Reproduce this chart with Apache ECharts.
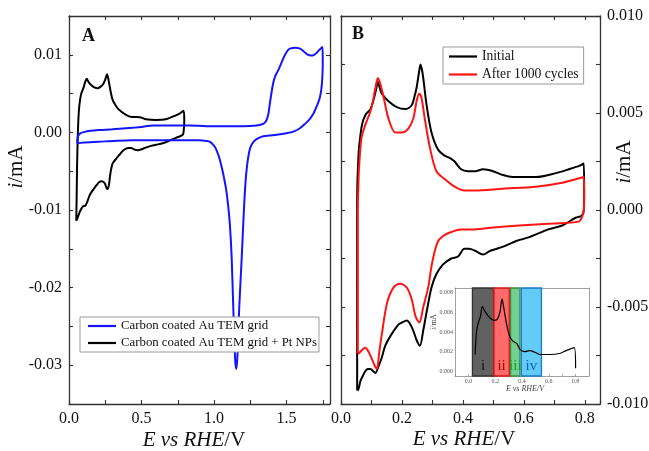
<!DOCTYPE html>
<html>
<head>
<meta charset="utf-8">
<script src="https://cdn.jsdelivr.net/npm/echarts@6/dist/echarts.min.js"></script>
<style>html,body{margin:0;padding:0;background:#fff}#c{width:649px;height:451px}</style>
</head>
<body>
<div id="c"></div>
<script>
// ---------- DATA ----------
// Panel A: Carbon coated Au TEM grid (blue), loop anodic -> cathodic  [E (V), i (mA)]
const auGrid = [
 [0.057,-0.0009],[0.065,-0.0004],[0.080,-0.0001],[0.095,0.0000],[0.150,0.0002],[0.209,0.0003],[0.300,0.0004],
 [0.439,0.0006],[0.500,0.0007],[0.577,0.0009],[0.700,0.0009],[0.834,0.0009],[0.950,0.0008],[1.064,0.0008],
 [1.200,0.0008],[1.294,0.0009],[1.340,0.0011],[1.360,0.0015],[1.374,0.0023],[1.386,0.0038],[1.398,0.0053],
 [1.410,0.0065],[1.421,0.0072],[1.440,0.0079],[1.455,0.0085],[1.475,0.0094],[1.490,0.0100],[1.510,0.0106],
 [1.524,0.0108],[1.560,0.0109],[1.593,0.0108],[1.615,0.0105],[1.640,0.0101],[1.670,0.0099],[1.690,0.0100],
 [1.710,0.0103],[1.735,0.0108],[1.748,0.0110],
 [1.750,0.0095],[1.748,0.0074],[1.740,0.0055],[1.730,0.0045],[1.720,0.0039],[1.700,0.0030],[1.685,0.0024],
 [1.660,0.0017],[1.628,0.0011],[1.590,0.0005],[1.547,0.0001],[1.500,-0.0001],[1.432,-0.0003],[1.380,-0.0004],
 [1.340,-0.0005],[1.310,-0.0007],[1.283,-0.0010],[1.262,-0.0015],[1.248,-0.0021],[1.236,-0.0032],[1.226,-0.0046],
 [1.217,-0.0065],[1.207,-0.0097],[1.191,-0.0162],[1.174,-0.0226],[1.161,-0.0290],[1.153,-0.0305],[1.145,-0.0290],
 [1.133,-0.0226],[1.122,-0.0162],[1.110,-0.0120],[1.099,-0.0097],[1.085,-0.0075],[1.064,-0.0054],[1.047,-0.0040],
 [1.030,-0.0029],[1.010,-0.0020],[0.995,-0.0016],[0.970,-0.0012],[0.950,-0.0011],[0.900,-0.0010],[0.834,-0.0010],
 [0.700,-0.0010],[0.550,-0.0010],[0.439,-0.0010],[0.300,-0.0011],[0.209,-0.0012],[0.100,-0.0013],[0.062,-0.0014],
 [0.057,-0.0012],[0.057,-0.0009]
];
// Panel A: Carbon coated Au TEM grid + Pt NPs (black)
const ptGrid = [
 [0.050,-0.0114],[0.053,-0.0080],[0.056,-0.0040],[0.060,-0.0009],[0.065,0.0018],[0.071,0.0034],[0.083,0.0049],
 [0.099,0.0057],[0.112,0.0065],[0.122,0.0069],[0.135,0.0065],[0.152,0.0061],[0.175,0.0058],[0.198,0.0057],
 [0.218,0.0059],[0.235,0.0062],[0.250,0.0068],[0.262,0.0075],[0.270,0.0070],[0.278,0.0062],[0.290,0.0050],
 [0.301,0.0042],[0.318,0.0036],[0.336,0.0031],[0.360,0.0027],[0.382,0.0024],[0.410,0.0021],[0.439,0.0020],
 [0.474,0.0020],[0.500,0.0019],[0.531,0.0017],[0.600,0.0016],[0.669,0.0017],[0.738,0.0022],[0.770,0.0025],
 [0.790,0.0028],[0.795,0.0015],[0.790,0.0000],[0.784,-0.0003],
 [0.765,-0.0005],[0.738,-0.0007],[0.700,-0.0010],[0.646,-0.0014],[0.600,-0.0016],[0.554,-0.0018],[0.510,-0.0021],
 [0.474,-0.0023],[0.450,-0.0022],[0.428,-0.0020],[0.410,-0.0020],[0.393,-0.0021],[0.370,-0.0024],[0.347,-0.0029],
 [0.325,-0.0034],[0.301,-0.0040],[0.290,-0.0048],[0.283,-0.0056],[0.274,-0.0069],[0.262,-0.0073],[0.252,-0.0068],
 [0.244,-0.0065],[0.225,-0.0063],[0.209,-0.0064],[0.190,-0.0068],[0.174,-0.0072],[0.155,-0.0077],[0.140,-0.0082],
 [0.125,-0.0090],[0.117,-0.0093],[0.108,-0.0095],[0.099,-0.0095],[0.090,-0.0097],[0.083,-0.0099],[0.075,-0.0102],
 [0.067,-0.0106],[0.060,-0.0110],[0.053,-0.0113]
];
// Panel B: Initial (black)
const initialCV = [
 [0.053,-0.0093],[0.053,-0.0040],[0.053,0.0000],[0.054,0.0015],[0.058,0.0030],[0.061,0.0035],[0.069,0.0044],
 [0.080,0.0049],[0.097,0.0052],[0.107,0.0057],[0.115,0.0062],[0.121,0.0066],[0.127,0.0063],[0.134,0.0060],
 [0.156,0.0056],[0.183,0.0053],[0.210,0.0052],[0.232,0.0054],[0.242,0.0059],[0.248,0.0063],[0.256,0.0071],
 [0.261,0.0075],[0.266,0.0072],[0.270,0.0068],[0.281,0.0054],[0.297,0.0040],[0.319,0.0031],[0.340,0.0028],
 [0.355,0.0027],[0.365,0.0026],[0.373,0.0025],[0.394,0.0021],[0.416,0.0020],[0.440,0.0020],[0.466,0.0021],
 [0.499,0.0020],[0.531,0.0018],[0.564,0.0017],[0.640,0.0017],[0.705,0.0019],[0.748,0.0021],[0.786,0.0023],
 [0.797,0.0024],[0.798,0.0010],[0.797,0.0000],
 [0.790,-0.0003],[0.770,-0.0004],[0.726,-0.0008],[0.680,-0.0010],[0.618,-0.0014],[0.575,-0.0016],[0.530,-0.0019],
 [0.490,-0.0021],[0.466,-0.0023],[0.440,-0.0021],[0.420,-0.0020],[0.405,-0.0020],[0.384,-0.0024],[0.362,-0.0025],
 [0.335,-0.0028],[0.313,-0.0033],[0.297,-0.0040],[0.284,-0.0050],[0.270,-0.0062],[0.259,-0.0070],[0.248,-0.0067],
 [0.234,-0.0061],[0.216,-0.0057],[0.200,-0.0058],[0.189,-0.0059],[0.162,-0.0065],[0.145,-0.0070],[0.134,-0.0076],
 [0.122,-0.0081],[0.113,-0.0084],[0.105,-0.0083],[0.097,-0.0082],[0.088,-0.0082],[0.080,-0.0083],[0.070,-0.0086],
 [0.064,-0.0088],[0.058,-0.0092],[0.055,-0.0093],[0.053,-0.0093]
];
// Panel B: After 1000 cycles (red)
const after1000CV = [
 [0.055,-0.0074],[0.055,-0.0040],[0.055,0.0000],[0.057,0.0012],[0.059,0.0021],[0.067,0.0037],[0.080,0.0044],
 [0.097,0.0051],[0.106,0.0057],[0.113,0.0063],[0.121,0.0068],[0.129,0.0065],[0.140,0.0058],[0.156,0.0047],
 [0.178,0.0040],[0.200,0.0040],[0.221,0.0042],[0.237,0.0047],[0.248,0.0056],[0.257,0.0060],[0.264,0.0058],
 [0.275,0.0047],[0.292,0.0032],[0.313,0.0020],[0.340,0.0016],[0.373,0.0012],[0.405,0.0010],[0.438,0.0010],
 [0.531,0.0011],[0.640,0.0012],[0.726,0.0014],[0.797,0.0017],[0.798,0.0008],[0.797,0.0000],
 [0.790,-0.0004],[0.780,-0.0006],[0.694,-0.0007],[0.585,-0.0008],[0.500,-0.0009],[0.438,-0.0010],[0.394,-0.0010],
 [0.351,-0.0012],[0.330,-0.0014],[0.319,-0.0016],[0.308,-0.0021],[0.297,-0.0029],[0.286,-0.0040],[0.270,-0.0050],
 [0.257,-0.0058],[0.245,-0.0055],[0.232,-0.0046],[0.216,-0.0040],[0.194,-0.0038],[0.172,-0.0040],[0.151,-0.0048],
 [0.134,-0.0064],[0.125,-0.0074],[0.118,-0.0082],[0.110,-0.0080],[0.102,-0.0077],[0.090,-0.0073],[0.080,-0.0071],
 [0.070,-0.0072],[0.064,-0.0073],[0.056,-0.0074],[0.055,-0.0074]
];
// Inset: anodic scan of initial CV
const insetCurve = [
 [0.050,0.0017],[0.055,0.0030],[0.062,0.0042],[0.075,0.0050],[0.090,0.0056],[0.104,0.0066],[0.120,0.0062],
 [0.150,0.0056],[0.190,0.0052],[0.215,0.0053],[0.235,0.0060],[0.251,0.0074],[0.265,0.0064],[0.285,0.0048],
 [0.307,0.0036],[0.330,0.0031],[0.362,0.0028],[0.386,0.0022],[0.420,0.0020],[0.460,0.0021],[0.500,0.0019],
 [0.533,0.0017],[0.600,0.0017],[0.680,0.0018],[0.729,0.0021],[0.790,0.0024],[0.800,0.0003]
];
// Inset regions
const bandLabels = ['i','ii','iii','iv'];
const bandStart  = [0.030, 0.190, 0.315, 0.395];
const bandEnd    = [0.190, 0.305, 0.385, 0.545];

const legendA = ['Carbon coated Au TEM grid','Carbon coated Au TEM grid + Pt NPs'];
const legendB = ['Initial','After 1000 cycles'];

// ---------- STYLE ----------
const FONT = '"Liberation Serif","Times New Roman",serif';
const AX = '#333';
const bandFill   = ['rgba(75,75,75,0.88)','rgba(255,80,80,0.85)','rgba(80,195,120,0.8)','rgba(70,195,245,0.85)'];
const bandBorder = ['#333333','#e01010','#3a8f3a','#1a78d6'];
const bandText   = ['#111111','#b00000','#1aa31a','#1060c0'];

function isMult(v, step){ const r = v/step; return Math.abs(r - Math.round(r)) < 1e-6; }
function fmt(v, d){ if (Math.abs(v) < 1e-12) v = 0; return v.toFixed(d); }

function axis(o){
  const small = !!o.small;
  return {
    type:'value', gridIndex:o.grid, position:o.pos, min:o.min, max:o.max, interval:o.interval,
    axisLine:{show:true, onZero:false, lineStyle:{color: small ? '#888' : AX, width: small ? 0.8 : 1.3}},
    axisTick:{show: o.tick !== false, inside:true, length: small ? 2 : 4, lineStyle:{color: small ? '#888' : AX, width: small ? 0.7 : 1.1}},
    axisLabel:{show: !!o.fmt, margin: small ? 2 : 7, color: small ? '#555' : '#111', fontFamily:FONT,
               fontSize: small ? 6 : 16, formatter:o.fmt || (()=>'')},
    splitLine:{show:false}
  };
}

const xAxes = [
  axis({grid:0,pos:'bottom',min:0,max:1.8,interval:0.25,fmt:v=>isMult(v,0.5)?fmt(v,1):''}),
  axis({grid:0,pos:'top',min:0,max:1.8,interval:0.25}),
  axis({grid:1,pos:'bottom',min:0,max:0.85,interval:0.1,fmt:v=>isMult(v,0.2)?fmt(v,1):''}),
  axis({grid:1,pos:'top',min:0,max:0.85,interval:0.1}),
  axis({grid:2,pos:'bottom',min:-0.1,max:0.9,interval:0.1,small:true,fmt:v=>(v>-1e-9&&v<0.81&&isMult(v,0.2))?fmt(v,1):''}),
  axis({grid:2,pos:'top',min:-0.1,max:0.9,interval:0.1,small:true,tick:false})
];
const yAxes = [
  axis({grid:0,pos:'left',min:-0.035,max:0.015,interval:0.005,fmt:v=>isMult(v,0.01)?fmt(v,2):''}),
  axis({grid:0,pos:'right',min:-0.035,max:0.015,interval:0.005}),
  axis({grid:1,pos:'right',min:-0.01,max:0.01,interval:0.0025,fmt:v=>isMult(v,0.005)?fmt(v,3):''}),
  axis({grid:1,pos:'left',min:-0.01,max:0.01,interval:0.0025}),
  axis({grid:2,pos:'left',min:-0.0005,max:0.0085,interval:0.0005,small:true,tick:false,fmt:v=>(v>-1e-9&&isMult(v,0.002))?fmt(v,3):''}),
  axis({grid:2,pos:'right',min:-0.0005,max:0.0085,interval:0.0005,small:true,tick:false})
];

function lineSeries(name, data, color, xi, yi, w){
  return {name, type:'line', data, xAxisIndex:xi, yAxisIndex:yi, symbol:'none', showSymbol:false,
          smooth:0.3, lineStyle:{color, width:w||2}, itemStyle:{color}, emphasis:{disabled:true}, silent:true};
}

const inset = lineSeries('inset', insetCurve, '#000', 4, 4, 1.2);
inset.markArea = {
  silent:true,
  data: bandLabels.map((t,k)=>[
    {xAxis:bandStart[k], name:t,
     itemStyle:{color:bandFill[k], borderColor:bandBorder[k], borderWidth:1.3},
     label:{show:true, position:'insideBottom', distance:3, formatter:t, color:bandText[k],
            fontFamily:FONT, fontSize:15}},
    {xAxis:bandEnd[k]}
  ])
};

const legendCommon = {
  orient:'vertical', icon:'rect', itemWidth:28, itemHeight:2.2, itemGap:3,
  borderColor:'#999', borderWidth:1, selectedMode:false, backgroundColor:'#fff',
  textStyle:{fontFamily:FONT, fontSize:13, color:'#111', lineHeight:14}
};

const option = {
  animation:false,
  backgroundColor:'#fff',
  grid:[
    {left:69, top:16, width:261, height:388, outerBoundsMode:'none'},
    {left:341, top:16, width:259, height:388, outerBoundsMode:'none'},
    {left:455, top:288, width:134, height:88, outerBoundsMode:'none', backgroundColor:'#fff', show:true, borderWidth:0}
  ],
  xAxis:xAxes,
  yAxis:yAxes,
  legend:[
    Object.assign({}, legendCommon, {data:legendA, left:80, top:317, padding:[2,2,2,8],
      textStyle:{fontFamily:FONT, fontSize:12.8, color:'#111', lineHeight:14}}),
    Object.assign({}, legendCommon, {data:legendB, left:443, top:47, padding:[2,5,2,6],
      textStyle:{fontFamily:FONT, fontSize:13.6, color:'#111', lineHeight:15}})
  ],
  series:[
    lineSeries(legendA[1], ptGrid, '#000', 0, 0),
    lineSeries(legendA[0], auGrid, '#1414ff', 0, 0),
    lineSeries(legendB[0], initialCV, '#000', 2, 2),
    lineSeries(legendB[1], after1000CV, '#ff1414', 2, 2),
    inset
  ],
  graphic:[
    {type:'text', x:88.5, y:36, style:{text:'A', fontFamily:FONT, fontWeight:'bold', fontSize:18, fill:'#111', align:'center', verticalAlign:'middle'}},
    {type:'text', x:358, y:34, style:{text:'B', fontFamily:FONT, fontWeight:'bold', fontSize:18, fill:'#111', align:'center', verticalAlign:'middle'}},
    {type:'text', x:16, y:167, rotation:Math.PI/2, style:{text:'{it|i}/mA', fontFamily:FONT, fontSize:21, fill:'#111', align:'center', verticalAlign:'middle',
      rich:{it:{fontStyle:'italic', fontFamily:FONT, fontSize:21, fill:'#111'}}}},
    {type:'text', x:624, y:162, rotation:Math.PI/2, style:{text:'{it|i}/mA', fontFamily:FONT, fontSize:21, fill:'#111', align:'center', verticalAlign:'middle',
      rich:{it:{fontStyle:'italic', fontFamily:FONT, fontSize:21, fill:'#111'}}}},
    {type:'text', x:194, y:440, style:{text:'{it|E vs RHE}/V', fontFamily:FONT, fontSize:21, fill:'#111', align:'center', verticalAlign:'middle',
      rich:{it:{fontStyle:'italic', fontFamily:FONT, fontSize:21, fill:'#111'}}}},
    {type:'text', x:464, y:439, style:{text:'{it|E vs RHE}/V', fontFamily:FONT, fontSize:21, fill:'#111', align:'center', verticalAlign:'middle',
      rich:{it:{fontStyle:'italic', fontFamily:FONT, fontSize:21, fill:'#111'}}}},
    {type:'text', x:434, y:322, rotation:Math.PI/2, style:{text:'{it|i}/mA', fontFamily:FONT, fontSize:7.5, fill:'#444', align:'center', verticalAlign:'middle',
      rich:{it:{fontStyle:'italic', fontFamily:FONT, fontSize:7.5, fill:'#444'}}}},
    {type:'text', x:525, y:389, style:{text:'{it|E vs RHE/V}', fontFamily:FONT, fontSize:8, fill:'#444', align:'center', verticalAlign:'middle',
      rich:{it:{fontStyle:'italic', fontFamily:FONT, fontSize:8, fill:'#444'}}}}
  ]
};

const chart = echarts.init(document.getElementById('c'), null, {renderer:'canvas'});
chart.setOption(option);
</script>
</body>
</html>
